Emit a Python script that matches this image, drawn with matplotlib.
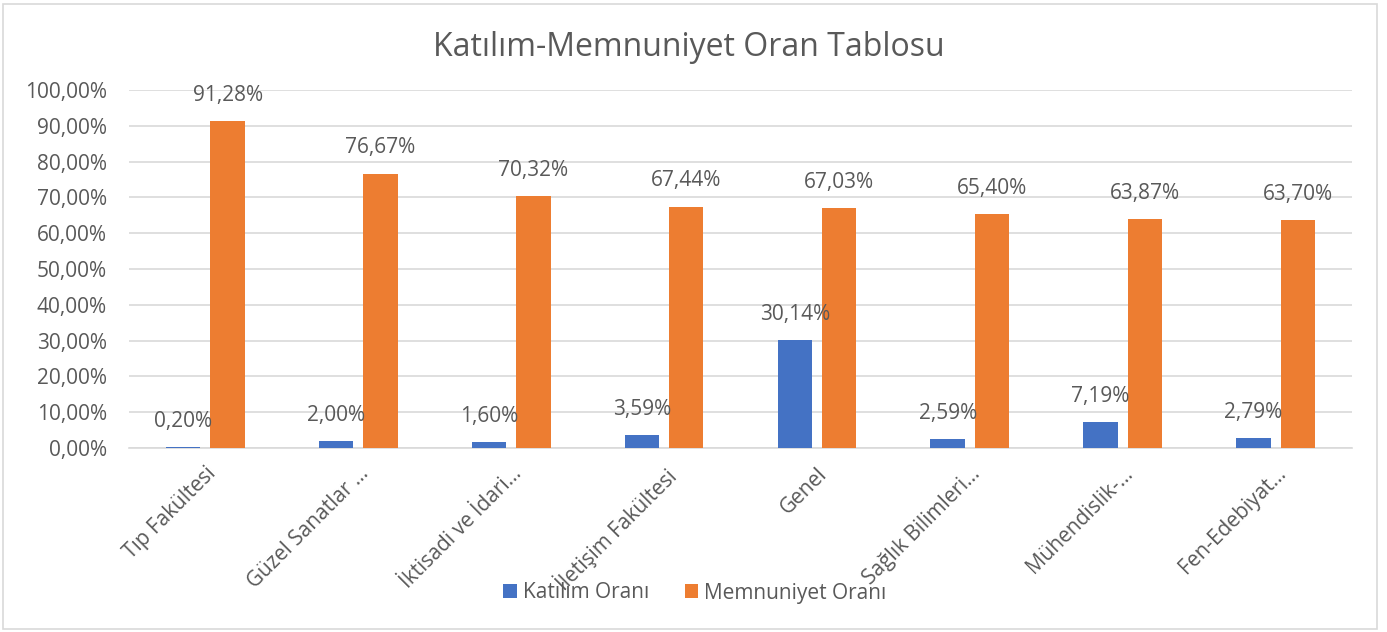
import matplotlib
matplotlib.use("Agg")
import matplotlib.pyplot as plt
import matplotlib.transforms as mtransforms
from matplotlib.patches import Rectangle
import numpy as np

categories = ["Tıp Fakültesi", "Güzel Sanatlar …", "İktisadi ve İdari…", "İletişim Fakültesi",
              "Genel", "Sağlık Bilimleri…", "Mühendislik-…", "Fen-Edebiyat…"]
katilim = [0.20, 2.00, 1.60, 3.59, 30.14, 2.59, 7.19, 2.79]
memnuniyet = [91.28, 76.67, 70.32, 67.44, 67.03, 65.40, 63.87, 63.70]
series_names = ["Katılım Oranı", "Memnuniyet Oranı"]
yticks = [0, 10, 20, 30, 40, 50, 60, 70, 80, 90, 100]

BLUE = "#4472C4"
ORANGE = "#ED7D31"
TXT = "#595959"
GRID = "#D9D9D9"

plt.rcParams['font.family'] = ['Open Sans', 'DejaVu Sans']

W, H = 1387, 632
fig = plt.figure(figsize=(W / 100, H / 100), dpi=100)
ax = fig.add_axes([129 / W, 1 - 448 / H, (1352 - 129) / W, (448 - 90) / H])

x = np.arange(len(categories))
bw = 0.225
off = 0.145
b1 = ax.bar(x - off, katilim, bw, color=BLUE, label=series_names[0], zorder=3)
b2 = ax.bar(x + off, memnuniyet, bw, color=ORANGE, label=series_names[1], zorder=3)

def fmt(v):
    return f"{v:.2f}".replace(".", ",") + "%"

for bars, vals in ((b1, katilim), (b2, memnuniyet)):
    for rect, v in zip(bars, vals):
        ax.annotate(fmt(v), (rect.get_x() + rect.get_width() / 2, v),
                    xytext=(0, 18.5), textcoords="offset points",
                    ha="center", va="center", fontsize=15, color=TXT, zorder=4)

ax.set_xlim(-0.5, len(categories) - 0.5)
ax.set_ylim(0, 100)
ax.set_yticks(yticks)
ax.set_yticklabels([f"{t:.2f}".replace(".", ",") + "%" for t in yticks], fontsize=15, color=TXT)
ax.tick_params(axis="y", length=0, pad=16)
ax.yaxis.grid(True, color=GRID, linewidth=1.2, zorder=0)
ax.set_axisbelow(True)

ax.set_xticks(x)
ax.set_xticklabels(categories, rotation=45, ha="right", va="top",
                   rotation_mode="anchor", fontsize=15, color=TXT)
ax.tick_params(axis="x", length=0, pad=11)

for s in ("top", "right", "left"):
    ax.spines[s].set_visible(False)
ax.spines["bottom"].set_color(GRID)
ax.spines["bottom"].set_linewidth(1.2)

fig.text(689 / W, 1 - 47 / H, "Katılım-Memnuniyet Oran Tablosu", ha="center", va="center",
         fontsize=23, color=TXT)

leg = fig.legend(handles=[b1, b2], labels=series_names, loc="center",
                 bbox_to_anchor=(695 / W, 1 - 593 / H), ncol=2, frameon=False,
                 fontsize=15, labelcolor=TXT, handlelength=0.65, handleheight=0.65,
                 handletextpad=0.3, columnspacing=1.7)

fig.patches.append(Rectangle((3 / W, 3 / H), (1377 - 3) / W, (628 - 3) / H,
                             transform=fig.transFigure, fill=False,
                             edgecolor=GRID, linewidth=1.2))

fig.savefig("out.png", dpi=100, facecolor="white")
